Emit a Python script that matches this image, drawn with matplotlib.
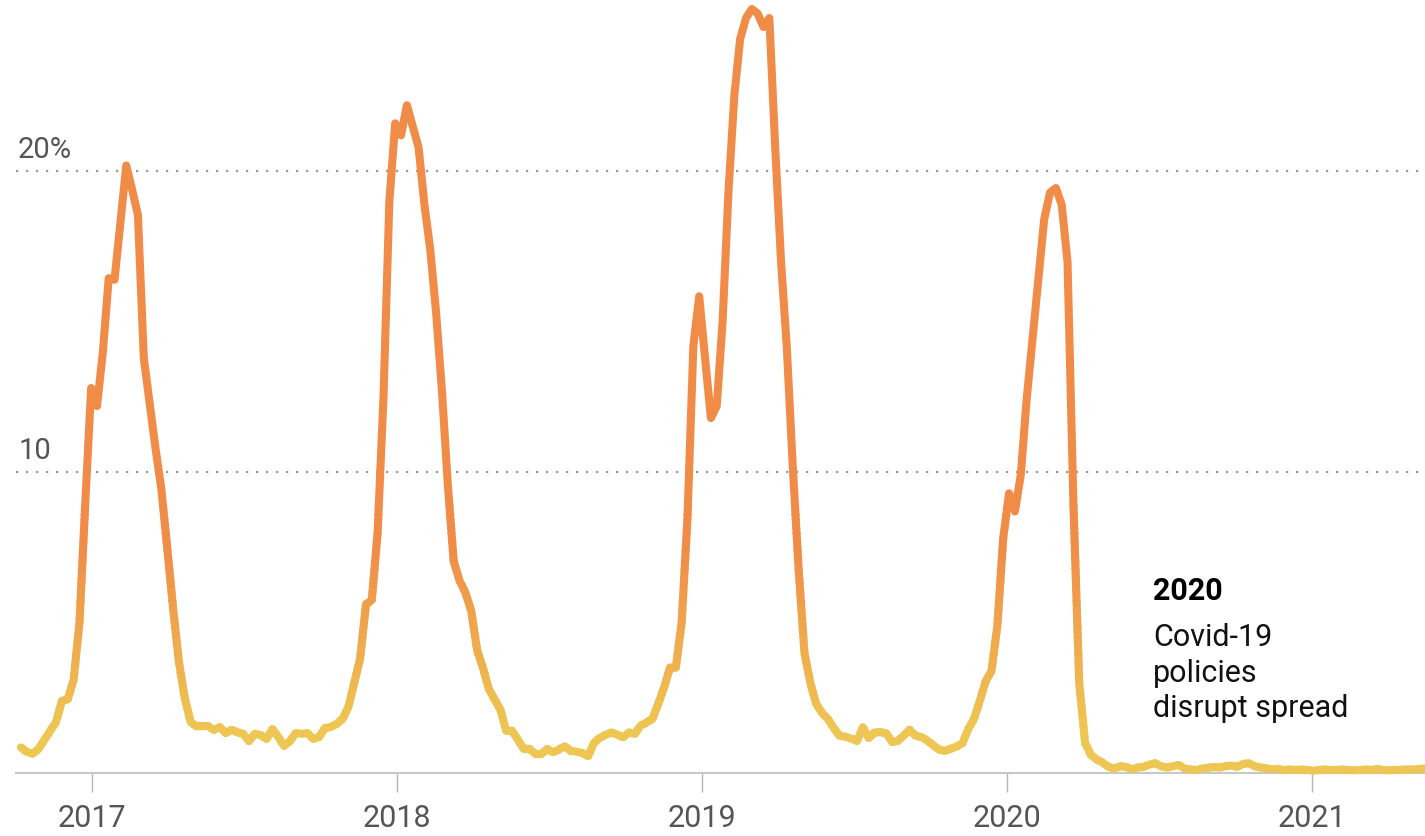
import pandas as pd
import numpy as np
import matplotlib
matplotlib.use("Agg")
import matplotlib.pyplot as plt
import matplotlib.dates as mdates
from matplotlib.patches import Rectangle
from matplotlib.colors import LinearSegmentedColormap

plt.rcParams['font.family'] = ['Roboto', 'DejaVu Sans']

# weekly share of positive flu tests (%), weeks ending Saturday
start_week = "2016-10-08"
season_2016_17 = [0.85, 0.7, 0.64, 0.8, 1.1, 1.4, 1.7, 2.4, 2.45, 3.1,
                  5.0, 9.0, 12.8, 12.2, 14.0, 16.45, 16.4, 18.3, 20.2, 19.4,
                  18.55, 13.8, 12.3, 10.8, 9.45, 7.5, 5.5, 3.7, 2.5, 1.7,
                  1.55, 1.56, 1.56, 1.43, 1.53, 1.33, 1.43, 1.36, 1.30, 1.06,
                  1.30, 1.26, 1.13, 1.46, 1.20, 0.90, 1.06, 1.33, 1.30, 1.33,
                  1.13, 1.20]
season_2017_18 = [1.5, 1.53, 1.63, 1.8, 2.2, 3.0, 3.8, 5.6,
                  5.75, 8.0, 12.5, 19.0, 21.6, 21.2, 22.2, 21.5, 20.8, 18.9,
                  17.4, 15.3, 12.7, 9.6, 7.05, 6.4, 6.0, 5.4, 4.1, 3.5,
                  2.8, 2.45, 2.1, 1.4, 1.4, 1.1, 0.8, 0.8, 0.63, 0.63,
                  0.8, 0.69, 0.78, 0.89, 0.74, 0.71, 0.66, 0.56, 1.0, 1.17,
                  1.27, 1.35, 1.27, 1.19]
season_2018_19 = [1.35, 1.3, 1.58, 1.68, 1.8, 2.3,
                  2.85, 3.5, 3.5, 5.0, 8.5, 14.2, 15.85, 13.8, 11.8, 12.2,
                  15.0, 19.3, 22.5, 24.4, 25.1, 25.4, 25.25, 24.8, 25.1, 20.8,
                  17.0, 14.1, 10.2, 6.8, 4.0, 3.0, 2.3, 2.0, 1.8, 1.5,
                  1.24, 1.21, 1.14, 1.07, 1.52, 1.16, 1.35, 1.36, 1.32, 1.03,
                  1.07, 1.25, 1.44, 1.24, 1.2, 1.08]
season_2019_20 = [0.93, 0.78, 0.74, 0.8,
                  0.88, 0.98, 1.45, 1.8, 2.4, 3.05, 3.4, 4.9, 7.8, 9.3,
                  8.7, 9.9, 12.4, 14.4, 16.4, 18.4, 19.3, 19.45, 18.9, 17.0,
                  9.0, 3.0, 1.0, 0.6, 0.45, 0.35, 0.2, 0.15, 0.22, 0.2,
                  0.13, 0.18, 0.2, 0.28, 0.33, 0.22, 0.18, 0.22, 0.27, 0.15,
                  0.12, 0.1, 0.15, 0.17, 0.2, 0.18, 0.22, 0.25]
season_2020_21 = [0.2, 0.3,
                  0.33, 0.22, 0.18, 0.16, 0.12, 0.14, 0.1, 0.12, 0.1, 0.12,
                  0.1, 0.08, 0.1, 0.12, 0.1, 0.1, 0.12, 0.1, 0.09, 0.1,
                  0.12, 0.1, 0.14, 0.1, 0.09, 0.1, 0.11, 0.12, 0.12, 0.13, 0.15]

pct = season_2016_17 + season_2017_18 + season_2018_19 + season_2019_20 + season_2020_21
weeks = pd.date_range(start_week, periods=len(pct), freq="7D")

years = [2017, 2018, 2019, 2020, 2021]
grid_values = [10, 20]
grid_labels = ["10", "20%"]

fig = plt.figure(figsize=(14.25, 8.36), dpi=100)
ax = fig.add_axes([16 / 1425, 63 / 836, 1409 / 1425, 773 / 836])

x0 = pd.Timestamp("2016-10-02")
x1 = pd.Timestamp("2021-05-16")
ax.set_xlim(x0, x1)
ax.set_ylim(0, 25.7)

# dotted gridlines
for v in grid_values:
    ax.axhline(v, color='#9a9a9a', lw=1.6, linestyle=(0, (1, 3.5)), zorder=1)
for v, lab in zip(grid_values, grid_labels):
    ax.text(0.0015, v + 0.45, lab, transform=ax.get_yaxis_transform(),
            ha='left', va='baseline', fontsize=21, color='#555555')

# line coloured by height: yellow at low values, orange at high
cmap = LinearSegmentedColormap.from_list("flu", ["#EEC653", "#F08C48"])
edges = np.linspace(0, 9, 61)
xa = mdates.date2num(x0) - 30
xw = mdates.date2num(x1) - xa + 60
for k in range(len(edges) - 1):
    lo = edges[k] if k > 0 else -2
    hi = edges[k + 1] + 0.05 if k < len(edges) - 2 else 40
    mid = (edges[k] + edges[k + 1]) / 2
    c = cmap(np.clip((mid - 1.5) / 6.0, 0, 1))
    line, = ax.plot(weeks, pct, color=c, lw=5.8, solid_capstyle='round',
                    solid_joinstyle='round', zorder=3)
    line.set_clip_path(Rectangle((xa, lo), xw, hi - lo, transform=ax.transData))

for s in ['left', 'top', 'right']:
    ax.spines[s].set_visible(False)
ax.spines['bottom'].set_color('#c8c8c8')
ax.spines['bottom'].set_linewidth(1.5)

ax.set_yticks([])
ax.set_xticks([pd.Timestamp(f"{y}-01-01") for y in years])
ax.set_xticklabels([str(y) for y in years])
ax.tick_params(axis='x', length=14, width=1, color='#b5b5b5', pad=8,
               labelsize=22, labelcolor='#555555')

ax.text(0.807, 5.75, "2020", transform=ax.get_yaxis_transform(),
        ha='left', va='baseline', fontsize=22, fontweight='bold', color='black')
ax.text(0.807, 5.0, "Covid-19\npolicies\ndisrupt spread", transform=ax.get_yaxis_transform(),
        ha='left', va='top', fontsize=22, color='#111111', linespacing=1.3)

fig.savefig("out.png", dpi=100, facecolor='white')
